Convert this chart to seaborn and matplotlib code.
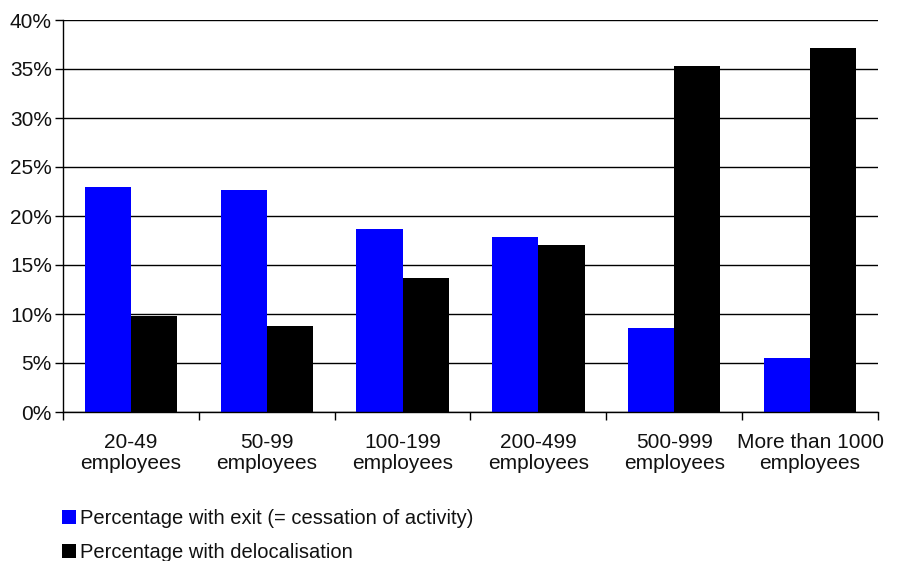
import matplotlib
matplotlib.use("Agg")
import matplotlib.pyplot as plt
import seaborn as sns
import pandas as pd
from matplotlib.ticker import FuncFormatter, MultipleLocator
from matplotlib.patches import Patch

categories = ["20-49\nemployees", "50-99\nemployees", "100-199\nemployees",
              "200-499\nemployees", "500-999\nemployees", "More than 1000\nemployees"]
exit_pct = [23.0, 22.7, 18.7, 17.9, 8.6, 5.5]
deloc_pct = [9.8, 8.8, 13.7, 17.0, 35.3, 37.1]
series_names = ["Percentage with exit (= cessation of activity)",
                "Percentage with delocalisation"]
colors = ["#0000FF", "#000000"]

df = pd.DataFrame({
    "cat": categories * 2,
    "val": exit_pct + deloc_pct,
    "series": [series_names[0]] * len(categories) + [series_names[1]] * len(categories),
})

sns.set_theme(style="white")
plt.rcParams["font.family"] = ["Liberation Sans", "DejaVu Sans"]
plt.rcParams["font.size"] = 15

fig = plt.figure(figsize=(9.12, 5.61), dpi=100)
ax = fig.add_axes([63/912, 1 - 412/561, (878-63)/912, (412-20)/561])

sns.barplot(data=df, x="cat", y="val", hue="series", palette=colors,
            width=0.68, saturation=1, ax=ax, legend=False, linewidth=0)

ax.set_ylim(0, 40)
ax.set_xlim(-0.5, len(categories) - 0.5)
ax.yaxis.set_major_locator(MultipleLocator(5))
ax.yaxis.set_major_formatter(FuncFormatter(lambda v, p: f"{int(v)}%"))
ax.grid(axis="y", color="black", linewidth=1)
ax.set_axisbelow(True)
ax.set_xlabel("")
ax.set_ylabel("")
for s in ["top", "right"]:
    ax.spines[s].set_visible(False)
for s in ["left", "bottom"]:
    ax.spines[s].set_color("black")
    ax.spines[s].set_linewidth(1)

ax.set_xticks([i + 0.5 for i in range(-1, len(categories))], minor=False)
ax.set_xticklabels([])
ax.set_xticks(range(len(categories)), minor=True)
ax.set_xticklabels(categories, minor=True, fontsize=15, color="#111111", linespacing=1.15)
ax.tick_params(axis="x", which="major", length=6, width=1, color="black", direction="out", bottom=True)
ax.tick_params(axis="x", which="minor", length=0, pad=15)
ax.tick_params(axis="y", length=6, width=1, color="black", direction="out", left=True,
               labelsize=15, labelcolor="#111111", pad=2)

handles = [Patch(facecolor=c, edgecolor="none") for c in colors]
fig.legend(handles, series_names, loc="upper left", bbox_to_anchor=(0.068, 0.092),
           frameon=False, fontsize=14.5, handlelength=0.7, handleheight=0.7,
           handletextpad=0.2, labelspacing=0.75, borderaxespad=0, borderpad=0,
           labelcolor="#111111")

fig.savefig("out.png", dpi=100)
